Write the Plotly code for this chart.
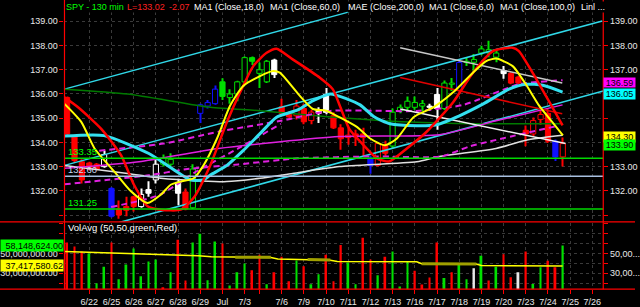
import plotly.graph_objects as go

# ---------------- data ----------------
# bar index: 0 = first 130-min bar of 6/22 (3 bars per session, 2 on 7/3)
bar_idx = list(range(-3, 65))
opens = [135.85,134.25,133.2,133.15,133.1,133.0,132.1,131.25,131.35,131.75,131.35,131.9,132.45,133.1,133.1,132.35,131.95,131.3,
         135.2,135.5,135.6,135.9,135.85,136.0,136.5,137.35,136.85,136.5,137.4,135.47,135.2,135.1,135.4,134.9,135.2,135.24,
         135.1,134.6,134.2,134.35,134.35,133.35,133.05,133.9,133.85,135.3,135.45,135.45,135.5,135.5,135.4,135.4,136.4,136.15,
         137.3,137.31,137.69,137.7,137.52,136.97,136.85,136.7,134.5,134.35,134.95,135.2,134.05,133.95]
highs = [135.9,134.3,133.3,133.2,133.15,133.65,132.15,131.6,131.75,131.8,132.1,132.4,133.3,133.5,133.55,132.5,132.1,133.1,
         135.6,135.75,136.35,136.65,136.2,136.55,137.55,137.55,137.3,137.4,137.45,135.8,135.3,135.75,135.6,135.35,135.45,136.25,
         135.25,134.75,134.6,134.52,134.6,133.45,133.98,134.07,135.4,135.57,135.9,135.9,135.75,135.6,136.25,136.56,136.66,137.38,
         137.52,137.65,137.99,138.2,137.79,137.15,136.9,136.75,134.7,135.03,135.48,135.38,134.12,134.2]
lows = [134.3,133.15,132.3,132.85,132.85,132.95,130.9,130.85,130.95,131.15,131.3,131.75,132.3,133.0,133.0,131.4,131.2,131.25,
        134.8,135.4,135.55,135.75,135.6,135.7,136.35,137.2,136.25,136.45,136.66,135.15,134.95,134.95,134.75,134.75,134.8,135.16,
        134.55,133.7,133.9,133.85,133.4,132.7,133.0,133.45,133.77,135.2,135.34,135.35,135.3,135.3,134.52,135.34,136.12,136.1,
        137.15,136.9,137.6,137.52,137.31,136.63,136.4,136.4,133.84,134.25,134.73,133.98,133.23,133.0]
closes = [134.35,133.25,132.45,132.9,132.9,133.5,130.95,131.0,131.2,131.35,131.85,132.05,133.1,133.35,133.3,131.9,131.25,132.9,
          135.55,135.65,136.2,136.5,136.0,136.5,137.5,137.5,137.0,137.35,136.8,135.2,135.05,135.5,134.85,135.25,135.35,135.98,
          134.6,134.15,134.3,134.22,134.2,133.05,133.95,133.55,135.25,135.45,135.7,135.65,135.6,135.45,135.98,136.45,136.45,137.3,
          137.35,137.42,137.86,137.83,137.69,136.84,136.45,136.45,134.35,134.9,135.15,134.05,133.4,133.4]
candle_style = list("RRRRRwBRRRwWwGGWRGbbbgGGGgGGWRRrRrWWRRrRRBrRGGGGGWWGGbGGGGGWRRRrrRBr")

volume_m = [61,57,52,50,20,36.7,61,24,39,55,27,42,44,16,31,64,22.7,61,70,23,62,60,17.7,31,40,33,48.7,19,31,46.7,22,43,37,19,
            29,48.7,22,58.7,41,19,66,44,28,46.7,52,16.7,42,32.7,18.7,25.7,61,25.3,31,40,24,35,47.7,22.7,36.7,49.3,26,31,52,
            19.3,36,42.7,36,58.15]
volume_col = list("RRRGGGRGGGGGGRGRRGGGGRGGGRRGRRRGRGGRRRGGRRGRGGGRRRRGRGGWGRGRRWRGGRRG")

vol_avg_x = [-3.35,5.77,14.75,16.5,19.72,24.54,25.48,29.51,32.59,33.53,44.26,44.93,52.31,52.98,63.97]
vol_avg_y = [52,50,47.7,46.7,46.5,46,44.5,44,43.2,42,41.7,39.7,39.3,37.8,37.4]
vol_avg_hl_x = [19.72,24.54,None,29.51,32.59,None,44.93,52.31]
vol_avg_hl_y = [46.3,46.1,None,43.9,43.4,None,39.6,39.4]

ma6_x = [-3.35,-1.07,0.71,3.39,5.63,7.87,9.66,11.0,12.34,14.12,15.46,17.26,19.04,20.83,23.07,24.85,25.75,28.43,30.22,32.01,
         33.80,36.21,37.96,39.97,41.58,43.82,46.50,49.18,51.86,53.65,54.99,57.23,59.01,60.80,62.59,64.02]
ma6_y = [135.59,134.84,133.75,132.79,131.98,131.50,131.84,132.25,132.38,132.52,133.06,134.16,135.52,136.34,136.74,136.95,136.88,
         135.93,135.38,135.31,135.04,134.63,134.16,133.88,134.16,135.04,135.45,136.07,136.88,137.36,137.46,137.15,136.40,135.52,
         134.84,134.29]
ma18_x = [-3.35,-1.52,1.61,4.29,6.04,7.87,9.66,12.34,14.08,16.36,18.60,20.39,22.17,23.97,25.31,27.49,31.12,32.90,33.93,35.14,
          36.88,38.89,40.50,42.92,45.60,49.18,51.86,54.55,57.23,58.07,59.91,61.70,63.97]
ma18_y = [135.86,135.45,134.56,133.47,132.25,131.36,131.22,131.22,131.70,133.06,134.84,136.07,137.15,137.70,137.87,137.43,136.68,
          136.20,135.46,134.56,133.95,133.34,133.21,133.75,134.44,135.66,136.88,137.77,137.91,137.77,136.88,135.93,134.70]
ma60_x = [-3.35,2.01,8.05,13.68,15.42,16.36,18.60,20.79,23.07,25.31,28.17,30.18,32.59,34.87,36.61,38.49,40.64,44.26,46.94,
          50.03,53.25,56.73,59.01,61.29,63.97]
ma60_y = [134.26,134.28,133.54,132.45,132.45,132.65,133.05,133.66,134.36,135.04,135.34,135.71,136.00,135.79,135.55,135.06,134.77,
          134.69,134.73,135.10,135.59,136.20,136.40,136.36,136.08]
ma100_x = [-3.35,5.19,16.36,23.07,32.19,43.32,52.31,63.97]
ma100_y = [136.20,136.00,135.45,135.31,135.06,134.84,134.77,134.77]
wma_x = [-3.35,5.19,9.66,15.02,18.60,23.07,27.49,33.80,44.26,47.35,54.99,59.01,63.97]
wma_y = [133.05,132.72,132.52,132.41,132.38,132.52,132.72,133.00,133.20,133.42,133.75,134.09,134.29]

mae_mid_x = [-3.35,6.71,17.44,33.80,47.35,54.99,63.97]
mae_mid_y = [132.93,133.20,133.75,134.24,134.32,134.89,135.55]
mae_up_x = [1.34,10.06,17.44,25.89,32.59,44.26,50.56,58.07,63.97]
mae_up_y = [133.66,133.95,134.44,134.89,135.30,135.30,135.55,136.40,136.57]
mae_up2_x = [2.95,9.39,14.75,20.12,25.89]
mae_up2_y = [131.33,131.82,132.85,133.75,134.77]
mae_lo_x = [-3.35,8.05,13.01,20.12,28.17,38.49,47.61,51.37,63.44]
mae_lo_y = [132.27,132.64,132.89,133.09,133.34,133.42,133.42,133.83,134.69]

chan_up_x, chan_up_y = [-3.35, 35.14], [136.20, 139.39]
chan_mid_x, chan_mid_y = [-3.35, 69.34], [133.05, 139.01]
chan_lo_x, chan_lo_y = [4.02, 69.47], [130.69, 136.12]
dn_up_x, dn_up_y = [42.02, 63.93], [137.91, 136.45]
dn_mid_x, dn_mid_y = [42.02, 63.93], [136.68, 135.18]
dn_lo_x, dn_lo_y = [42.02, 64.38], [135.38, 133.95]

levels = [133.35, 132.60, 131.25]
level_colors = ['#00d800', '#a8c0e0', '#00d800']

date_ticks = [0,3,6,9,12,15,18,21,23,26,29,32,35,38,41,44,47,50,53,56,59,62,65,68]
date_labels = ['6/22','6/25','6/26','6/27','6/28','6/29','Jul','7/3','','7/6','7/9','7/10','7/11','7/12','7/13',
               '7/16','7/17','7/18','7/19','7/20','7/23','7/24','7/25','7/26']

# ---------------- figure ----------------
W, H = 640, 307
XL, XR = 65, 608
X_RANGE = [-3.353, 69.47]
Y_RANGE = [130.72, 139.881]
V_RANGE = [14, 81]
dom_x = [XL / W, XR / W]
dom_p = [(H - 224) / H, 1.0]
dom_v = [(H - 292) / H, (H - 225) / H]

fig = go.Figure()

styles = {
    'R': ('#ff0000', '#ff0000'), 'r': ('#ff0000', '#000000'),
    'G': ('#00e000', '#000000'), 'g': ('#00e000', '#00e000'),
    'W': ('#ffffff', '#ffffff'), 'w': ('#ffffff', '#000000'),
    'B': ('#1010ff', '#1010ff'), 'b': ('#1010ff', '#000000'),
}
edge_cols = [styles[s][0] for s in candle_style]
fill_cols = [styles[s][1] for s in candle_style]

# wicks (high-low)
fig.add_trace(go.Bar(x=bar_idx, base=lows, y=[h - l for h, l in zip(highs, lows)], width=0.14,
                     marker=dict(color=edge_cols, line=dict(width=0)), xaxis='x', yaxis='y',
                     hoverinfo='skip', showlegend=False))
# bodies (open-close)
fig.add_trace(go.Bar(x=bar_idx, base=[min(o, c) for o, c in zip(opens, closes)],
                     y=[max(abs(c - o), 0.04) for o, c in zip(opens, closes)], width=0.7,
                     marker=dict(color=fill_cols, line=dict(color=edge_cols, width=1)), xaxis='x', yaxis='y',
                     hoverinfo='skip', showlegend=False))

def line(x, y, color, width, dash='solid', spline=False, xa='x', ya='y'):
    fig.add_trace(go.Scatter(x=x, y=y, mode='lines', xaxis=xa, yaxis=ya, hoverinfo='skip', showlegend=False,
                             line=dict(color=color, width=width, dash=dash,
                                       shape='spline' if spline else 'linear', smoothing=0.6)))

line(chan_up_x, chan_up_y, '#30d8e8', 1.5)
line(chan_mid_x, chan_mid_y, '#30d8e8', 1.5)
line(chan_lo_x, chan_lo_y, '#30d8e8', 1.5)
line(ma100_x, ma100_y, '#007a00', 1.5, spline=True)
line(wma_x, wma_y, '#e0e0e0', 1.5, spline=True)
line(mae_lo_x, mae_lo_y, '#e020e0', 2, dash='6px,4px', spline=True)
line(mae_up_x, mae_up_y, '#e020e0', 2, dash='6px,4px', spline=True)
line(mae_up2_x, mae_up2_y, '#e020e0', 2, dash='6px,4px', spline=True)
line(mae_mid_x, mae_mid_y, '#e020e0', 1.5, spline=True)
line(dn_up_x, dn_up_y, '#c8c8c8', 1.5)
line(dn_mid_x, dn_mid_y, '#e00000', 1.5)
line(dn_lo_x, dn_lo_y, '#f0f0f0', 1.5)
line(ma60_x, ma60_y, '#33e0f0', 3, spline=True)
line(ma18_x, ma18_y, '#ff0000', 2.5, spline=True)
line(ma6_x, ma6_y, '#ffff00', 2, spline=True)

# invisible anchor for the mirrored right price axis
fig.add_trace(go.Scatter(x=[bar_idx[0]], y=[closes[0]], mode='markers', marker=dict(opacity=0),
                         xaxis='x', yaxis='y3', hoverinfo='skip', showlegend=False))

vc = {'R': '#ff0000', 'G': '#00e000', 'W': '#e8e8e8'}
fig.add_trace(go.Bar(x=bar_idx, y=volume_m, marker=dict(color=[vc[c] for c in volume_col], line=dict(width=0)),
                     width=0.25, xaxis='x2', yaxis='y2', hoverinfo='skip', showlegend=False))
line(vol_avg_x, vol_avg_y, '#ffff00', 1.5, xa='x2', ya='y2')
line(vol_avg_hl_x, vol_avg_hl_y, '#a0a000', 3, xa='x2', ya='y2')
fig.add_trace(go.Scatter(x=[bar_idx[0]], y=[volume_m[0]], mode='markers', marker=dict(opacity=0),
                         xaxis='x2', yaxis='y4', hoverinfo='skip', showlegend=False))

FONT = 'Liberation Sans, Arial, sans-serif'
grid = dict(showgrid=True, gridcolor='#3a3a3a', griddash='dot', gridwidth=1, zeroline=False)
tickf = dict(family=FONT, size=9, color='#e8e8e8')

p_ticks = list(range(131, 140))
p_left_text = ['' if v == 131 else f'{v:.2f}' for v in p_ticks]
p_right_text = [f'{v:.2f}' if v in (132, 133, 137, 138, 139) else '' for v in p_ticks]
v_ticks = [20, 30, 40, 50, 60, 70, 80]
v_left_text = ['', '30,000,000.00', '', '50,000,000.00', '', '', '']
v_right_text = ['', '30,00...', '', '50,00...', '', '', '']

fig.update_layout(
    width=W, height=H, margin=dict(l=0, r=0, t=0, b=0),
    paper_bgcolor='black', plot_bgcolor='black', showlegend=False, barmode='overlay',
    font=dict(family=FONT, size=9, color='#e8e8e8'),
    xaxis=dict(domain=dom_x, range=X_RANGE, anchor='y', tickvals=date_ticks, showticklabels=False, ticks='', **grid),
    xaxis2=dict(domain=dom_x, range=X_RANGE, anchor='y2', matches='x', tickvals=date_ticks, ticktext=date_labels,
                ticks='outside', ticklen=4, tickcolor='#ff0000', tickfont=tickf, **grid),
    yaxis=dict(domain=dom_p, range=Y_RANGE, anchor='x', side='left', tickvals=p_ticks, ticktext=p_left_text,
               ticks='outside', ticklen=4, tickcolor='#ff0000', tickfont=tickf, **grid),
    yaxis3=dict(overlaying='y', anchor='x', side='right', range=Y_RANGE, tickvals=p_ticks, ticktext=p_right_text,
                ticks='outside', ticklen=4, tickcolor='#ff0000', tickfont=tickf, showgrid=False, zeroline=False),
    yaxis2=dict(domain=dom_v, range=V_RANGE, anchor='x2', side='left', tickvals=v_ticks, ticktext=v_left_text,
                ticks='outside', ticklen=4, tickcolor='#ff0000', tickfont=tickf, **grid),
    yaxis4=dict(overlaying='y2', anchor='x2', side='right', range=V_RANGE, tickvals=v_ticks, ticktext=v_right_text,
                ticks='outside', ticklen=4, tickcolor='#ff0000', tickfont=tickf, showgrid=False, zeroline=False),
)

shapes = []
for v, c in zip(levels, level_colors):
    shapes.append(dict(type='line', xref='x domain', x0=0, x1=1, yref='y', y0=v, y1=v,
                       line=dict(color=c, width=1.5), layer='above'))
red = dict(color='#ff0000', width=1.2)
shapes += [
    dict(type='line', xref='paper', yref='paper', x0=dom_x[0], x1=dom_x[0], y0=dom_v[0], y1=1, line=red),
    dict(type='line', xref='paper', yref='paper', x0=dom_x[1], x1=dom_x[1], y0=dom_v[0], y1=1, line=red),
    dict(type='line', xref='paper', yref='paper', x0=0, x1=1, y0=dom_p[0], y1=dom_p[0], line=red),
    dict(type='line', xref='paper', yref='paper', x0=0, x1=1, y0=dom_v[0], y1=dom_v[0], line=red),
]
fig.update_layout(shapes=shapes)

ann = []
hy = 1 - 7.5 / H
header = [(66, 'SPY - 130 min', '#00ff00'), (126.5, 'L=133.02', '#ff2020'), (169, '-2.07', '#ff2020'),
          (195, 'MA1 (Close,18,0)', '#ffffff'), (271.5, 'MA1 (Close,60,0)', '#ffffff'),
          (350, 'MAE (Close,200,0)', '#ffffff'), (431.5, 'MA1 (Close,6,0)', '#ffffff'),
          (502.5, 'MA1 (Close,100,0)', '#ffffff'), (585, 'Linl ...', '#ffffff')]
for px, t, c in header:
    ann.append(dict(x=px / W, y=hy, xref='paper', yref='paper', text=t, showarrow=False, xanchor='left',
                    yanchor='middle', font=dict(family=FONT, size=9, color=c), bgcolor='black', borderpad=0))
for v, c in zip(levels, ['#00ff00', '#c8d8f0', '#00ff00']):
    ann.append(dict(x=67 / W, y=v, xref='paper', yref='y', text=f'{v:.2f}', showarrow=False, xanchor='left',
                    yanchor='bottom', yshift=-1, font=dict(family=FONT, size=9.5, color=c)))
ann.append(dict(x=67 / W, y=1 - 230 / H, xref='paper', yref='paper', text='VolAvg (50,50,green,Red)', showarrow=False,
                xanchor='left', yanchor='middle', font=dict(family=FONT, size=9.5, color='#ffffff')))

right_boxes = [(136.59, '#ff00ff', -3, 9), (136.05, '#00ffff', -1, 10), (134.30, '#ffff00', -2, 10), (133.90, '#00ff00', 0, 10)]
for v, c, sh, hh in right_boxes:
    ann.append(dict(x=XR / W, y=v, xref='paper', yref='y', text=f'{v:.2f}', showarrow=False, xanchor='left',
                    yanchor='middle', yshift=sh, width=31, height=hh, align='center', bgcolor=c, borderpad=0,
                    font=dict(family=FONT, size=9, color='#000000')))
for v, c in [(58.148624, '#00ff00'), (37.41758062, '#ffff00')]:
    ann.append(dict(x=0, y=v, xref='paper', yref='y2', text=f'{v * 1e6:,.2f}', showarrow=False, xanchor='left',
                    yanchor='middle', width=62, height=11, align='right', bgcolor=c, borderpad=0,
                    font=dict(family=FONT, size=9, color='#000000')))
fig.update_layout(annotations=ann)

fig.write_html('out.html', config={'displayModeBar': False})
